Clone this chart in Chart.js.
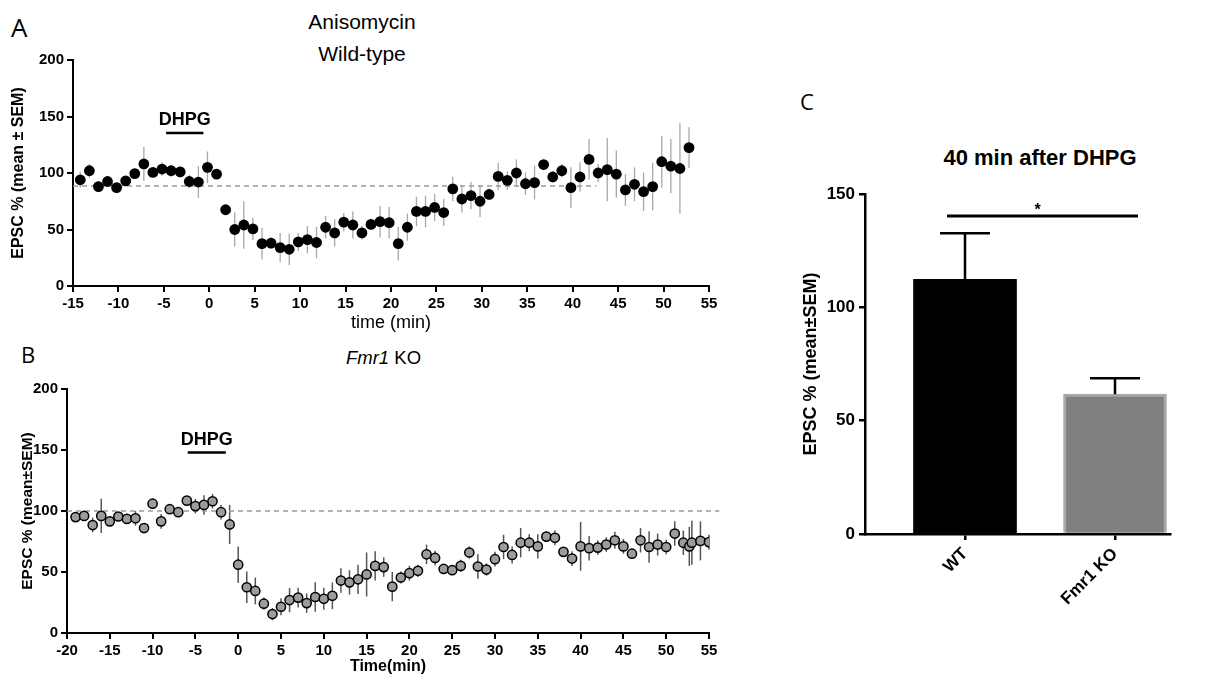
<!DOCTYPE html>
<html><head><meta charset="utf-8">
<script src="https://cdn.jsdelivr.net/npm/chart.js@4.4.0/dist/chart.umd.min.js"></script>
<style>
html,body{margin:0;padding:0;background:#fff;overflow:hidden;width:1224px;height:676px;}
canvas{position:absolute;}
.t{position:absolute;font-family:"Liberation Sans",Arial,sans-serif;color:#000;line-height:1;white-space:nowrap;}
.p{position:absolute;font-family:"Open Sans",sans-serif;line-height:1;color:#000;}
.c{transform:translateX(-50%);}
</style></head><body>
<div class="p" style="left:11px;top:14px;font-size:26px">A</div>
<div class="t c" style="left:362px;top:11px;font-size:21px">Anisomycin</div>
<div class="t c" style="left:362px;top:43px;font-size:21px">Wild-type</div>
<div class="p" style="left:21px;top:343px;font-size:22px">B</div>
<div class="t" style="left:346px;top:349px;font-size:18.5px"><i>Fmr1</i> KO</div>
<div class="p" style="left:800px;top:90px;font-size:22px">C</div>
<div class="t c" style="left:1040px;top:147px;font-size:22px;font-weight:bold">40 min after DHPG</div>
<canvas id="ca" width="740" height="340" style="left:0;top:0"></canvas>
<canvas id="cb" width="740" height="336" style="left:0;top:340px"></canvas>
<canvas id="cc" width="440" height="596" style="left:760px;top:80px"></canvas>
<script>
// ---------- Panel A: Anisomycin, wild-type ----------
const timeA = [-14.2,-13.2,-12.2,-11.2,-10.2,-9.2,-8.2,-7.2,-6.2,-5.2,-4.2,-3.2,-2.2,-1.2,-0.2,0.8,1.8,2.8,3.8,4.8,5.8,6.8,7.8,8.8,9.8,10.8,11.8,12.8,13.8,14.8,15.8,16.8,17.8,18.8,19.8,20.8,21.8,22.8,23.8,24.8,25.8,26.8,27.8,28.8,29.8,30.8,31.8,32.8,33.8,34.8,35.8,36.8,37.8,38.8,39.8,40.8,41.8,42.8,43.8,44.8,45.8,46.8,47.8,48.8,49.8,50.8,51.8,52.8];
const epscA = [94,102,88,92.5,87,93,99.5,108,100.5,103.5,102,101,92.5,92,105,99,67.5,50,54,50.5,37.5,38,34,32.5,39,41,38.5,52,47,56.5,54,47,54.5,57,56,37.5,52,66,66,69.5,65,86,77,80,75,81,97,93.5,100,90.5,91.5,107.5,96.5,102,87,96.5,112,100,103,99,85,90,83.5,88,110,106,104,122.5];
const semA = [7,6,5,3,4,3,3,15,3,6,5,5,6,14,14,4,3,15,21,10,14,5,13,14,8,12,14,10,12,8,12,6,5,14,14,15,12,13,14,12,12,11,12,12,14,5,12,8,12,10,15,3,5,6,18,13,18,8,28,21,14,15,17,21,23,24,40,18];
const baselineA = 88.5;
const dhpgA = {from: -4.75, to: -0.65, level: 135.5, label: 'DHPG'};

// ---------- Panel B: Fmr1 KO ----------
const timeB = [-19,-18,-17,-16,-15,-14,-13,-12,-11,-10,-9,-8,-7,-6,-5,-4,-3,-2,-1,0,1,2,3,4,5,6,7,8,9,10,11,12,13,14,15,16,17,18,19,20,21,22,23,24,25,26,27,28,29,30,31,32,33,34,35,36,37,38,39,40,41,42,43,44,45,46,47,48,49,50,51,52,52.7,53,54,55];
const epscB = [95,96,88.5,96,91.5,95.5,93.5,94,86,106,91.5,101.5,99,108.5,104,105,108,99,89,56,37.5,34.5,24,15.5,21.5,27,29,24.5,29.5,28,30.5,43,41.5,44,48,55,54,38,45.5,49,51,64.5,61.5,52.5,51.5,55,66,54.5,52,60.5,70.5,64,74,74,71,79,78,66.5,61,71,69.5,70,72.5,76,71,65,76,70.5,72.5,70.5,81.5,74,71,74,75.5,74.5];
const semB = [3,3,6,14,3,3,3,6,3,4,6,3,3,3,6,8,6,6,16,15,13,11,5,5,7,10,8,8,12,9,11,10,10,12,18,12,8,12,5,6,5,8,6,4,4,5,5,10,5,6,10,7,12,7,10,4,6,4,6,20,10,6,6,7,6,4,10,13,9,6,10,10,16,18,16,6];
const baselineB = 100;
const dhpgB = {from: -5.9, to: -1.45, level: 148, label: 'DHPG'};

// ---------- Panel C: 40 min after DHPG ----------
const groupsC = ['WT', 'Fmr1 KO'];
const meanC = [112.4, 61.7];
const semC = [20.3, 7];
const sigC = {level: 140.3, label: '*'};

const FONT = '"Liberation Sans", Arial, sans-serif';
Chart.defaults.font.family = FONT;
Chart.defaults.color = '#000';

const errorBars = {
  id: 'errorBars',
  beforeDatasetsDraw(chart) {
    const {ctx, scales: {x, y}} = chart;
    chart.data.datasets.forEach(ds => {
      if (!ds.sem) return;
      ctx.save();
      ctx.strokeStyle = ds.errColor; ctx.lineWidth = ds.errWidth;
      ds.data.forEach((p, i) => {
        const px = x.getPixelForValue(p.x);
        ctx.beginPath();
        ctx.moveTo(px, y.getPixelForValue(p.y - ds.sem[i]));
        ctx.lineTo(px, y.getPixelForValue(p.y + ds.sem[i]));
        ctx.stroke();
      });
      ctx.restore();
    });
  }
};
const drugBar = {
  id: 'drugBar',
  afterDatasetsDraw(chart, args, o) {
    const {ctx, scales: {x, y}} = chart;
    const d = o.info; if (!d) return;
    const x1 = x.getPixelForValue(d.from), x2 = x.getPixelForValue(d.to), py = y.getPixelForValue(d.level);
    ctx.save();
    ctx.strokeStyle = '#000'; ctx.lineWidth = 2.5;
    ctx.beginPath(); ctx.moveTo(x1, py); ctx.lineTo(x2, py); ctx.stroke();
    ctx.font = 'bold 18px ' + FONT; ctx.textAlign = 'center'; ctx.textBaseline = 'alphabetic';
    ctx.fillStyle = '#000';
    ctx.fillText(d.label, (x1 + x2) / 2, py - o.gap);
    ctx.restore();
  }
};

function timeChart(id, t, v, s, opt) {
  const pts = t.map((tt, i) => ({x: tt, y: v[i]}));
  return new Chart(document.getElementById(id), {
    type: 'scatter',
    data: {datasets: [
      {data: pts, sem: s, errColor: opt.errColor, errWidth: opt.errWidth,
       pointRadius: opt.r, pointHoverRadius: opt.r, backgroundColor: opt.fill, borderColor: '#000', pointBorderWidth: opt.bw, order: 1},
      {data: [{x: opt.xmin, y: opt.base}, {x: opt.baseEnd, y: opt.base}], showLine: true, pointRadius: 0,
       borderColor: '#9a9a9a', borderWidth: 1.6, borderDash: [5, 4], clip: false, order: 3}
    ]},
    options: {
      responsive: false, animation: false, devicePixelRatio: 1,
      layout: {padding: {top: opt.padTop, right: opt.padRight, left: 0, bottom: 0}},
      plugins: {legend: {display: false}, tooltip: {enabled: false}, drugBar: {info: opt.dhpg, gap: opt.gap}},
      scales: {
        x: {type: 'linear', min: opt.xmin, max: 55,
            afterFit: sc => { sc.height = opt.xh; },
            ticks: {stepSize: 5, maxRotation: 0, autoSkip: false, font: {size: 15, weight: 'bold'}, padding: 3},
            grid: {display: true, drawOnChartArea: false, drawTicks: true, tickLength: 6, color: '#000', lineWidth: 2},
            border: {display: true, color: '#000', width: 2},
            title: {display: true, text: opt.xtitle, font: {size: opt.xtSize, weight: opt.xtWeight}, padding: {top: 0, bottom: opt.xtPad}}},
        y: {min: 0, max: 200,
            afterFit: sc => { sc.width = opt.yw; },
            ticks: {stepSize: 50, font: {size: 15, weight: 'bold'}, padding: 3},
            grid: {display: true, drawOnChartArea: false, drawTicks: true, tickLength: 6, color: '#000', lineWidth: 2},
            border: {display: true, color: '#000', width: 2},
            title: {display: true, text: opt.ytitle, font: {size: opt.ytSize, weight: 'bold'}, padding: {top: opt.ytPad, bottom: 0}}}
      }
    },
    plugins: [errorBars, drugBar]
  });
}

timeChart('ca', timeA, epscA, semA, {
  errColor: '#a8a8a8', errWidth: 1.3, r: 5.4, fill: '#000', bw: 0,
  xmin: -15, base: baselineA, baseEnd: 42.6, dhpg: dhpgA, gap: 8,
  padTop: 60, padRight: 31, xh: 54, yw: 73,
  xtitle: 'time (min)', xtSize: 18, xtWeight: 'normal', xtPad: 6,
  ytitle: 'EPSC % (mean ± SEM)', ytSize: 16, ytPad: 9
});
timeChart('cb', timeB, epscB, semB, {
  errColor: '#555', errWidth: 1.5, r: 4.6, fill: '#9c9c9c', bw: 1.5,
  xmin: -20, base: baselineB, baseEnd: 56.2, dhpg: dhpgB, gap: 7,
  padTop: 49, padRight: 31, xh: 43, yw: 67,
  xtitle: 'Time(min)', xtSize: 16, xtWeight: 'bold', xtPad: 0,
  ytitle: 'EPSC % (mean±SEM)', ytSize: 15.5, ytPad: 18
});

// Panel C bar chart
const slotC = [1, 2.5];
const barExtras = {
  id: 'barExtras',
  afterDatasetsDraw(chart) {
    const {ctx, scales: {x, y}} = chart;
    ctx.save();
    ctx.strokeStyle = '#000'; ctx.lineWidth = 2.5;
    slotC.forEach((pos, i) => {
      const px = x.getPixelForValue(pos);
      const y0 = y.getPixelForValue(meanC[i]), y1 = y.getPixelForValue(meanC[i] + semC[i]);
      ctx.beginPath(); ctx.moveTo(px, y0); ctx.lineTo(px, y1);
      ctx.moveTo(px - 25, y1); ctx.lineTo(px + 25, y1); ctx.stroke();
    });
    const sy = y.getPixelForValue(sigC.level);
    const x1 = x.getPixelForValue(0.82), x2 = x.getPixelForValue(2.73);
    ctx.lineWidth = 3;
    ctx.beginPath(); ctx.moveTo(x1, sy); ctx.lineTo(x2, sy); ctx.stroke();
    ctx.fillStyle = '#000';
    ctx.font = 'bold 16px ' + FONT; ctx.textAlign = 'center'; ctx.textBaseline = 'alphabetic';
    ctx.fillText(sigC.label, (x1 + x2) / 2 - 5, sy - 1);
    ctx.restore();
  }
};
new Chart(document.getElementById('cc'), {
  type: 'bar',
  data: {datasets: [{
    data: meanC.map((m, i) => ({x: slotC[i], y: m})),
    backgroundColor: ['#000', '#808080'], borderColor: ['#000', '#a9a9a9'], borderWidth: [0, 3],
    barThickness: 103, borderSkipped: 'bottom'
  }]},
  options: {
    responsive: false, animation: false, devicePixelRatio: 1,
    layout: {padding: {top: 114, right: 30, left: 0, bottom: 0}},
    plugins: {legend: {display: false}, tooltip: {enabled: false}},
    scales: {
      x: {type: 'linear', min: 0, max: 3.05, offset: false,
          afterFit: sc => { sc.height = 142; },
          afterBuildTicks: sc => { sc.ticks = slotC.map(v => ({value: v})); },
          ticks: {autoSkip: false, minRotation: 45, maxRotation: 45, font: {size: 17, weight: 'bold'}, padding: 4,
                  callback: v => groupsC[slotC.indexOf(v)]},
          grid: {display: true, offset: false, drawOnChartArea: false, drawTicks: true, tickLength: 6, color: '#000', lineWidth: 2.5},
          border: {display: true, color: '#000', width: 2.5}},
      y: {min: 0, max: 150,
          afterFit: sc => { sc.width = 105; },
          ticks: {stepSize: 50, font: {size: 17, weight: 'bold'}, padding: 4},
          grid: {display: true, drawOnChartArea: false, drawTicks: true, tickLength: 6, color: '#000', lineWidth: 2.5},
          border: {display: true, color: '#000', width: 2.5},
          title: {display: true, text: 'EPSC % (mean±SEM)', font: {size: 18, weight: 'bold'}, padding: {top: 40, bottom: 0}}}
    }
  },
  plugins: [barExtras]
});
</script>
</body></html>
